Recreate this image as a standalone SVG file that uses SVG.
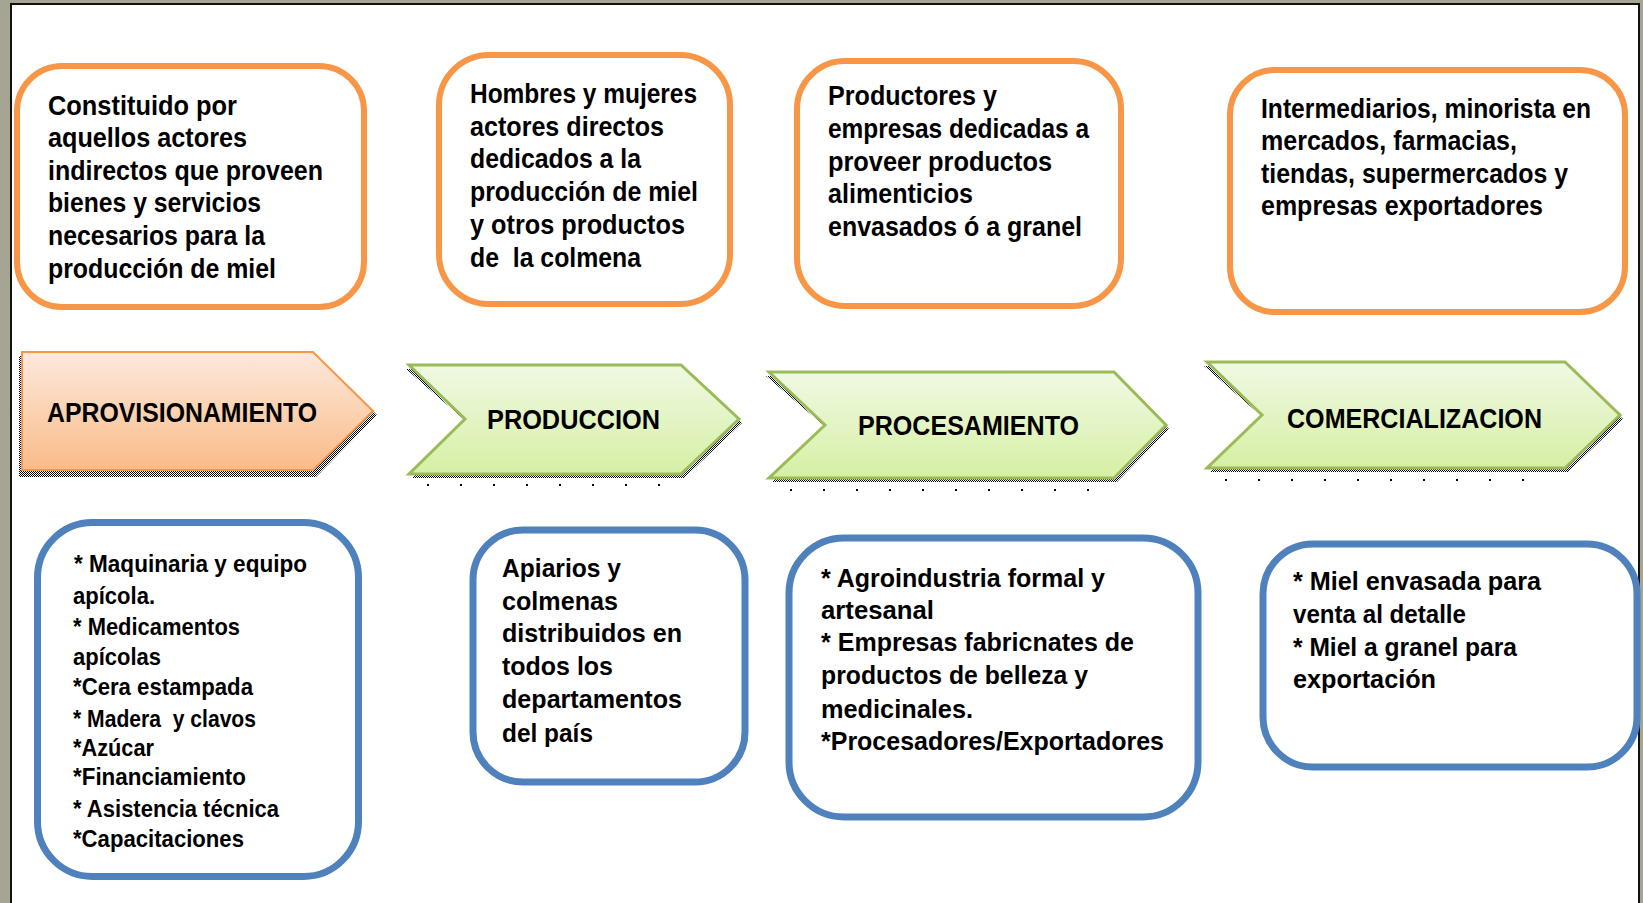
<svg xmlns="http://www.w3.org/2000/svg" width="1643" height="903" viewBox="0 0 1643 903">
<style>
.t{font-family:"Liberation Sans",Arial,sans-serif;font-weight:bold;fill:#000;white-space:pre}
.top{font-size:27px}
.chev{font-size:27px}
.bl{font-size:24px}
.bl2{font-size:26px}
.obox{fill:#fff;stroke:#f79646;stroke-width:6}
.bbox{fill:#fff;stroke:#4f81bd;stroke-width:7}
.gch{fill:url(#gg);stroke:#9bbb59;stroke-width:3}
.och{fill:url(#og);stroke:#f79646;stroke-width:2}
.sh{fill:url(#dots)}
.sp{stroke:#000;stroke-width:2;stroke-dasharray:2 31}
</style>
<defs>
<linearGradient id="gg" x1="0" y1="0" x2="0" y2="1">
<stop offset="0" stop-color="#f0f9e4"/>
<stop offset="1" stop-color="#d6efa4"/>
</linearGradient>
<linearGradient id="og" x1="0" y1="0" x2="0" y2="1">
<stop offset="0" stop-color="#fde9dc"/>
<stop offset="1" stop-color="#fabb88"/>
</linearGradient>
<pattern id="dots" width="2" height="2" patternUnits="userSpaceOnUse">
<rect x="0" y="0" width="1" height="1" fill="#000"/>
<rect x="1" y="1" width="1" height="1" fill="#000"/>
</pattern>
</defs>
<rect x="0" y="0" width="1643" height="903" fill="#a6a493"/>
<rect x="11" y="4" width="1628" height="910" fill="#fff" stroke="#111" stroke-width="2"/>

<g id="box-aprov-desc">
<rect class="obox" x="17" y="66" width="347" height="241" rx="45"/>
<text class="t top" x="48" y="115" textLength="189" lengthAdjust="spacingAndGlyphs">Constituido por</text>
<text class="t top" x="48" y="147" textLength="199" lengthAdjust="spacingAndGlyphs">aquellos actores</text>
<text class="t top" x="48" y="180" textLength="275" lengthAdjust="spacingAndGlyphs">indirectos que proveen</text>
<text class="t top" x="48" y="212" textLength="213" lengthAdjust="spacingAndGlyphs">bienes y servicios</text>
<text class="t top" x="48" y="245" textLength="217" lengthAdjust="spacingAndGlyphs">necesarios para la</text>
<text class="t top" x="48" y="278" textLength="228" lengthAdjust="spacingAndGlyphs">producción de miel</text>
</g>

<g id="box-prod-desc">
<rect class="obox" x="439" y="55" width="291" height="249" rx="50"/>
<text class="t top" x="470" y="103" textLength="227" lengthAdjust="spacingAndGlyphs">Hombres y mujeres</text>
<text class="t top" x="470" y="136" textLength="194" lengthAdjust="spacingAndGlyphs">actores directos</text>
<text class="t top" x="470" y="168" textLength="171" lengthAdjust="spacingAndGlyphs">dedicados a la</text>
<text class="t top" x="470" y="201" textLength="228" lengthAdjust="spacingAndGlyphs">producción de miel</text>
<text class="t top" x="470" y="234" textLength="215" lengthAdjust="spacingAndGlyphs">y otros productos</text>
<text class="t top" x="470" y="267" textLength="171" lengthAdjust="spacingAndGlyphs">de  la colmena</text>
</g>

<g id="box-proc-desc">
<rect class="obox" x="797" y="61" width="324" height="245" rx="48"/>
<text class="t top" x="828" y="105" textLength="169" lengthAdjust="spacingAndGlyphs">Productores y</text>
<text class="t top" x="828" y="138" textLength="261" lengthAdjust="spacingAndGlyphs">empresas dedicadas a</text>
<text class="t top" x="828" y="171" textLength="224" lengthAdjust="spacingAndGlyphs">proveer productos</text>
<text class="t top" x="828" y="203" textLength="145" lengthAdjust="spacingAndGlyphs">alimenticios</text>
<text class="t top" x="828" y="236" textLength="254" lengthAdjust="spacingAndGlyphs">envasados ó a granel</text>
</g>

<g id="box-com-desc">
<rect class="obox" x="1230" y="70" width="395" height="242" rx="45"/>
<text class="t top" x="1261" y="118" textLength="330" lengthAdjust="spacingAndGlyphs">Intermediarios, minorista en</text>
<text class="t top" x="1261" y="150" textLength="256" lengthAdjust="spacingAndGlyphs">mercados, farmacias,</text>
<text class="t top" x="1261" y="183" textLength="307" lengthAdjust="spacingAndGlyphs">tiendas, supermercados y</text>
<text class="t top" x="1261" y="215" textLength="282" lengthAdjust="spacingAndGlyphs">empresas exportadores</text>
</g>

<g id="stage-aprovisionamiento">
<polygon class="sh" points="19,356 316,356 377,415 316,477 19,477"/>
<polygon class="och" points="22,352 313,352 373,411 313,470 22,470"/>
<text class="t chev" x="47" y="422" textLength="270" lengthAdjust="spacingAndGlyphs">APROVISIONAMIENTO</text>
</g>

<g id="stage-produccion">
<polygon class="sh" points="406,369 684,369 742,423 684,478 412,478 468,423"/>
<polygon class="gch" points="409,365 681,365 739,419 681,474 409,474 465,419"/>
<line class="sp" x1="427" y1="485" x2="660" y2="485"/>
<text class="t chev" x="487" y="429" textLength="173" lengthAdjust="spacingAndGlyphs">PRODUCCION</text>
</g>

<g id="stage-procesamiento">
<polygon class="sh" points="766,376 1117,376 1169,429 1117,482 772,482 828,429"/>
<polygon class="gch" points="769,372 1114,372 1166,425 1114,478 769,478 825,425"/>
<line class="sp" x1="790" y1="490" x2="1090" y2="490"/>
<text class="t chev" x="858" y="435" textLength="221" lengthAdjust="spacingAndGlyphs">PROCESAMIENTO</text>
</g>

<g id="stage-comercializacion">
<polygon class="sh" points="1204,366 1568,366 1623,419 1568,472 1210,472 1265,419"/>
<polygon class="gch" points="1207,362 1565,362 1620,415 1565,468 1207,468 1262,415"/>
<line class="sp" x1="1225" y1="480" x2="1555" y2="480"/>
<text class="t chev" x="1287" y="428" textLength="255" lengthAdjust="spacingAndGlyphs">COMERCIALIZACION</text>
</g>

<g id="box-aprov-items">
<rect class="bbox" x="37.5" y="522.5" width="321" height="354" rx="55"/>
<text class="t bl" x="74" y="572" textLength="233" lengthAdjust="spacingAndGlyphs">* Maquinaria y equipo</text>
<text class="t bl" x="73" y="604" textLength="82" lengthAdjust="spacingAndGlyphs">apícola.</text>
<text class="t bl" x="73" y="635" textLength="167" lengthAdjust="spacingAndGlyphs">* Medicamentos</text>
<text class="t bl" x="73" y="665" textLength="88" lengthAdjust="spacingAndGlyphs">apícolas</text>
<text class="t bl" x="73" y="695" textLength="180" lengthAdjust="spacingAndGlyphs">*Cera estampada</text>
<text class="t bl" x="73" y="727" textLength="183" lengthAdjust="spacingAndGlyphs">* Madera  y clavos</text>
<text class="t bl" x="73" y="756" textLength="81" lengthAdjust="spacingAndGlyphs">*Azúcar</text>
<text class="t bl" x="73" y="785" textLength="173" lengthAdjust="spacingAndGlyphs">*Financiamiento</text>
<text class="t bl" x="73" y="817" textLength="206" lengthAdjust="spacingAndGlyphs">* Asistencia técnica</text>
<text class="t bl" x="73" y="847" textLength="171" lengthAdjust="spacingAndGlyphs">*Capacitaciones</text>
</g>

<g id="box-prod-items">
<rect class="bbox" x="473" y="530" width="272" height="252" rx="50"/>
<text class="t bl2" x="502" y="577" textLength="119" lengthAdjust="spacingAndGlyphs">Apiarios y</text>
<text class="t bl2" x="502" y="610" textLength="116" lengthAdjust="spacingAndGlyphs">colmenas</text>
<text class="t bl2" x="502" y="642" textLength="180" lengthAdjust="spacingAndGlyphs">distribuidos en</text>
<text class="t bl2" x="502" y="675" textLength="111" lengthAdjust="spacingAndGlyphs">todos los</text>
<text class="t bl2" x="502" y="708" textLength="180" lengthAdjust="spacingAndGlyphs">departamentos</text>
<text class="t bl2" x="502" y="742" textLength="91" lengthAdjust="spacingAndGlyphs">del país</text>
</g>

<g id="box-proc-items">
<rect class="bbox" x="789" y="538" width="409" height="279" rx="55"/>
<text class="t bl2" x="821" y="587" textLength="284" lengthAdjust="spacingAndGlyphs">* Agroindustria formal y</text>
<text class="t bl2" x="821" y="619" textLength="113" lengthAdjust="spacingAndGlyphs">artesanal</text>
<text class="t bl2" x="821" y="651" textLength="313" lengthAdjust="spacingAndGlyphs">* Empresas fabricnates de</text>
<text class="t bl2" x="821" y="684" textLength="267" lengthAdjust="spacingAndGlyphs">productos de belleza y</text>
<text class="t bl2" x="821" y="718" textLength="152" lengthAdjust="spacingAndGlyphs">medicinales.</text>
<text class="t bl2" x="821" y="750" textLength="343" lengthAdjust="spacingAndGlyphs">*Procesadores/Exportadores</text>
</g>

<g id="box-com-items">
<rect class="bbox" x="1263" y="544" width="374" height="223" rx="50"/>
<text class="t bl2" x="1293" y="590" textLength="248" lengthAdjust="spacingAndGlyphs">* Miel envasada para</text>
<text class="t bl2" x="1293" y="623" textLength="173" lengthAdjust="spacingAndGlyphs">venta al detalle</text>
<text class="t bl2" x="1293" y="656" textLength="224" lengthAdjust="spacingAndGlyphs">* Miel a granel para</text>
<text class="t bl2" x="1293" y="688" textLength="143" lengthAdjust="spacingAndGlyphs">exportación</text>
</g>

<g id="connectors"></g>
</svg>
